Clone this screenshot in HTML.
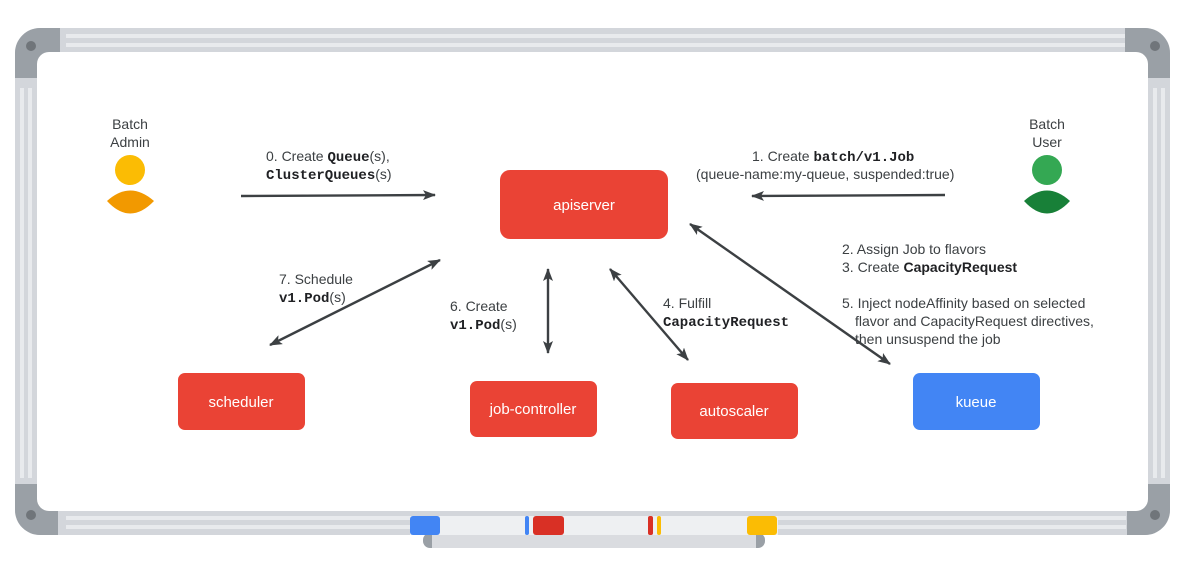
<!DOCTYPE html>
<html><head><meta charset="utf-8"><style>
html,body{margin:0;padding:0;background:#fff;}
svg{display:block;}
text{font-family:"Liberation Sans",sans-serif;font-size:14px;fill:#3c4043;}
.m{font-family:"Liberation Mono",monospace;font-weight:bold;fill:#202124;}
.w{fill:#fff;font-size:15px;}
</style></head><body>
<svg width="1184" height="566" viewBox="0 0 1184 566" xmlns="http://www.w3.org/2000/svg">
<defs>
<marker id="a" markerWidth="13" markerHeight="10" refX="12" refY="5" orient="auto-start-reverse" markerUnits="userSpaceOnUse">
<path d="M0,0 L13,5 L0,10 L3,5 z" fill="#3c4043"/></marker>
</defs>
<rect x="15" y="28" width="1155" height="507" rx="25" fill="#d3d6db"/>
<rect x="66" y="34" width="1060" height="4" fill="#e8eaed"/>
<rect x="66" y="43" width="1060" height="4" fill="#e8eaed"/>
<rect x="66" y="516" width="1060" height="4" fill="#e8eaed"/>
<rect x="66" y="525" width="1060" height="4" fill="#e8eaed"/>
<rect x="20" y="88" width="4" height="390" fill="#e8eaed"/>
<rect x="28" y="88" width="4" height="390" fill="#e8eaed"/>
<rect x="1153" y="88" width="4" height="390" fill="#e8eaed"/>
<rect x="1161" y="88" width="4" height="390" fill="#e8eaed"/>
<path d="M15,78 V53 A25,25 0 0 1 40,28 H60 V78 Z" fill="#9aa0a6"/>
<path d="M1170,78 V53 A25,25 0 0 0 1145,28 H1125 V78 Z" fill="#9aa0a6"/>
<path d="M15,484 V510 A25,25 0 0 0 40,535 H58 V484 Z" fill="#9aa0a6"/>
<path d="M1170,484 V510 A25,25 0 0 1 1145,535 H1127 V484 Z" fill="#9aa0a6"/>
<circle cx="31" cy="46" r="5" fill="#70757a"/>
<circle cx="1155" cy="46" r="5" fill="#70757a"/>
<circle cx="31" cy="515" r="5" fill="#70757a"/>
<circle cx="1155" cy="515" r="5" fill="#70757a"/>
<rect x="37" y="52" width="1111" height="459" rx="12" fill="#fff"/>
<rect x="423" y="533" width="342" height="15" rx="7" fill="#9aa0a6"/>
<rect x="432" y="533" width="324" height="15" fill="#dadce0"/>
<rect x="410" y="516" width="368" height="19" fill="#eef0f2"/>
<rect x="410" y="516" width="30" height="19" rx="3" fill="#4285f4"/>
<rect x="525" y="516" width="4" height="19" rx="2" fill="#4285f4"/>
<rect x="533" y="516" width="31" height="19" rx="3" fill="#d93025"/>
<rect x="648" y="516" width="5" height="19" rx="2" fill="#d93025"/>
<rect x="657" y="516" width="4" height="19" rx="2" fill="#fbbc04"/>
<rect x="747" y="516" width="30" height="19" rx="3" fill="#fbbc04"/>
<text x="130" y="129" text-anchor="middle">Batch</text>
<text x="130" y="147" text-anchor="middle">Admin</text>
<circle cx="130" cy="170" r="15" fill="#fbbc04"/>
<path d="M107,201 Q130,180 154,201 Q130,226 107,201 Z" fill="#f29900"/>
<text x="1047" y="129" text-anchor="middle">Batch</text>
<text x="1047" y="147" text-anchor="middle">User</text>
<circle cx="1047" cy="170" r="15" fill="#34a853"/>
<path d="M1024,201 Q1047,180 1070,201 Q1047,226 1024,201 Z" fill="#188038"/>
<rect x="500" y="170" width="168" height="69" rx="10" fill="#ea4335"/>
<text x="584" y="210" text-anchor="middle" class="w">apiserver</text>
<rect x="178" y="373" width="127" height="57" rx="7" fill="#ea4335"/>
<text x="241" y="407" text-anchor="middle" class="w">scheduler</text>
<rect x="470" y="381" width="127" height="56" rx="7" fill="#ea4335"/>
<text x="533" y="414" text-anchor="middle" class="w">job-controller</text>
<rect x="671" y="383" width="127" height="56" rx="7" fill="#ea4335"/>
<text x="734" y="416" text-anchor="middle" class="w">autoscaler</text>
<rect x="913" y="373" width="127" height="57" rx="7" fill="#4285f4"/>
<text x="976" y="407" text-anchor="middle" class="w">kueue</text>
<g stroke="#3c4043" stroke-width="2.4" fill="none">
<line x1="241" y1="196" x2="435" y2="195" marker-end="url(#a)"/>
<line x1="945" y1="195" x2="752" y2="196" marker-end="url(#a)"/>
<line x1="270" y1="345" x2="440" y2="260" marker-start="url(#a)" marker-end="url(#a)"/>
<line x1="548" y1="269" x2="548" y2="353" marker-start="url(#a)" marker-end="url(#a)"/>
<line x1="610" y1="269" x2="688" y2="360" marker-start="url(#a)" marker-end="url(#a)"/>
<line x1="690" y1="224" x2="890" y2="364" marker-start="url(#a)" marker-end="url(#a)"/>
</g>
<text x="266" y="161">0. Create <tspan class="m">Queue</tspan>(s),</text>
<text x="266" y="179"><tspan class="m">ClusterQueues</tspan>(s)</text>
<text x="752" y="161">1. Create <tspan class="m">batch/v1.Job</tspan></text>
<text x="696" y="179">(queue-name:my-queue, suspended:true)</text>
<text x="279" y="284">7. Schedule</text>
<text x="279" y="302"><tspan class="m">v1.Pod</tspan>(s)</text>
<text x="450" y="311">6. Create</text>
<text x="450" y="329"><tspan class="m">v1.Pod</tspan>(s)</text>
<text x="663" y="308">4. Fulfill</text>
<text x="663" y="326" class="m">CapacityRequest</text>
<text x="842" y="254">2. Assign Job to flavors</text>
<text x="842" y="272">3. Create <tspan font-weight="bold" fill="#202124">CapacityRequest</tspan></text>
<text x="842" y="308">5. Inject nodeAffinity based on selected</text>
<text x="855" y="326">flavor and CapacityRequest directives,</text>
<text x="855" y="344">then unsuspend the job</text>
</svg>
</body></html>
